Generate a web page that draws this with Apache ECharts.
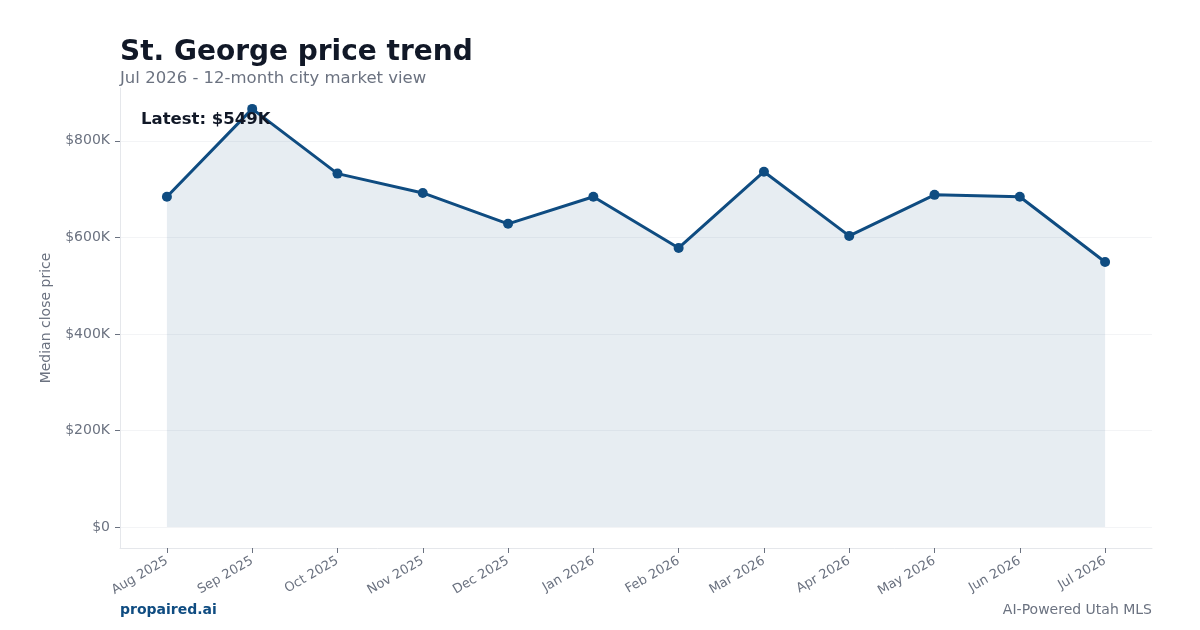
<!DOCTYPE html>
<html>
<head>
<meta charset="utf-8">
<script src="https://cdn.jsdelivr.net/npm/echarts@6/dist/echarts.min.js"></script>
<style>
  html, body { margin: 0; padding: 0; background: #fff; }
  #chart { width: 1200px; height: 630px; }
</style>
</head>
<body>
<div id="chart"></div>
<script>
// months shown on the x axis
const months = ['Aug 2025', 'Sep 2025', 'Oct 2025', 'Nov 2025', 'Dec 2025', 'Jan 2026',
  'Feb 2026', 'Mar 2026', 'Apr 2026', 'May 2026', 'Jun 2026', 'Jul 2026']
// median close price per month (USD)
const prices = [684000, 866000, 732000, 692000, 628000, 684000,
  578000, 736000, 603000, 688000, 684000, 549000]
const yTicks = [0, 200000, 400000, 600000, 800000]

const font = 'DejaVu Sans'
const blue = '#0f4c81'
const gray = '#6b7280'

// matplotlib-like 5% margins around the data
const xIdx = months.map((m, i) => i)
const yMax = Math.max(...prices)
const yPad = yMax * 0.05

const chart = echarts.init(document.getElementById('chart'))
chart.setOption({
  animation: false,
  textStyle: { fontFamily: font },
  grid: { left: 120, right: 48, top: 88, bottom: 82, containLabel: false },
  graphic: [
    { type: 'text', left: 120, top: 39, style: { text: 'St. George price trend', font: 'bold 28px "DejaVu Sans"', fill: '#111827' } },
    { type: 'text', left: 120, top: 70, style: { text: 'Jul 2026 - 12-month city market view', font: '16.5px "DejaVu Sans"', fill: gray } },
    { type: 'text', left: 141, top: 111, z: 10, style: { text: 'Latest: $549K', font: 'bold 16.5px "DejaVu Sans"', fill: '#111827' } },
    { type: 'text', left: 120, top: 603, style: { text: 'propaired.ai', font: 'bold 14px "DejaVu Sans"', fill: blue } },
    { type: 'text', right: 48, top: 603, style: { text: 'AI-Powered Utah MLS', font: '14px "DejaVu Sans"', fill: gray } }
  ],
  xAxis: {
    type: 'value',
    min: -0.55,
    max: months.length - 1 + 0.55,
    axisLine: { show: true, onZero: false, lineStyle: { color: '#e5e7eb', width: 1 } },
    axisTick: { show: true, customValues: xIdx, length: 5, lineStyle: { color: '#6b7280' } },
    axisLabel: {
      customValues: xIdx,
      rotate: 30,
      color: gray,
      fontSize: 13,
      fontFamily: font,
      margin: 12,
      formatter: v => months[Math.round(v)]
    },
    splitLine: { show: false }
  },
  yAxis: {
    type: 'value',
    min: -yPad,
    max: yMax + yPad,
    name: 'Median close price',
    nameLocation: 'middle',
    nameGap: 67,
    nameTextStyle: { color: gray, fontSize: 14, fontFamily: font },
    axisLine: { show: true, onZero: false, lineStyle: { color: '#e5e7eb', width: 1 } },
    axisTick: { show: true, customValues: yTicks, length: 5, lineStyle: { color: '#6b7280' } },
    axisLabel: {
      customValues: yTicks,
      color: gray,
      fontSize: 14,
      fontFamily: font,
      margin: 10,
      formatter: v => v === 0 ? '$0' : '$' + Math.round(v / 1000) + 'K'
    },
    splitLine: { show: true, lineStyle: { color: '#f3f4f6', width: 1 } }
  },
  series: [{
    type: 'line',
    data: prices.map((p, i) => [i, p]),
    symbol: 'circle',
    symbolSize: 10,
    lineStyle: { color: blue, width: 3 },
    itemStyle: { color: blue },
    areaStyle: { color: blue, opacity: 0.1, origin: 0 }
  }]
})
</script>
</body>
</html>
